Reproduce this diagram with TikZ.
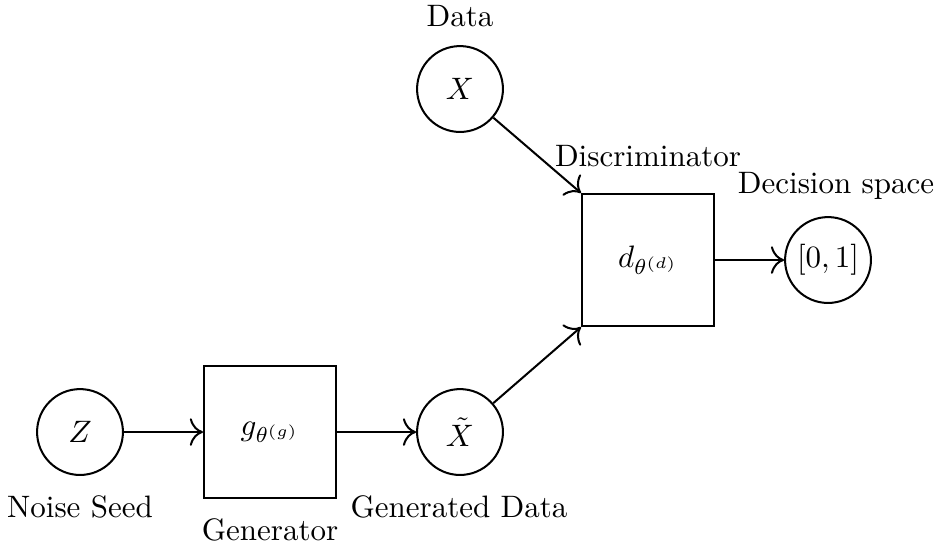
\documentclass[tikz,border=0pt]{standalone}
\usetikzlibrary{arrows.meta}
\begin{document}
\begin{tikzpicture}[x=0.3226pt,y=-0.3226pt,
  circ/.style={circle,draw,line width=0.65pt,minimum size=27.7pt,inner sep=0pt},
  boxst/.style={rectangle,draw,line width=0.65pt,minimum size=42.6pt,inner sep=0pt},
  lbl/.style={anchor=base,inner sep=0pt},
  conn/.style={-{To[scale=1.4]},line width=0.65pt}]
\useasboundingbox (0,0) rectangle (941,548);
\node[circ] (Z) at (80,432) {$Z$};
\node[boxst] (G) at (270,432) {$g_{\theta^{(g)}}$};
\node[circ] (Xt) at (460,432) {$\tilde{X}$};
\node[circ] (X) at (460,89) {$X$};
\node[boxst] (D) at (648,260) {$d_{\theta^{(d)}}$};
\node[circ] (O) at (828,260) {$[0,1]$};
\node[lbl] (lZ) at (80,517) {Noise Seed};
\node[lbl] (lG) at (270,540) {Generator};
\node[lbl] (lXt) at (459,517) {Generated Data};
\node[lbl] (lX) at (460,26) {Data};
\node[lbl] (lD) at (648,166) {Discriminator};
\node[lbl] (lO) at (836,193) {Decision space};
\draw[conn] (Z) -- (G);
\draw[conn] (G) -- (Xt);
\draw[conn] (X) -- (D.north west);
\draw[conn] (Xt) -- (D.south west);
\draw[conn] (D) -- (O);
\end{tikzpicture}
\end{document}
